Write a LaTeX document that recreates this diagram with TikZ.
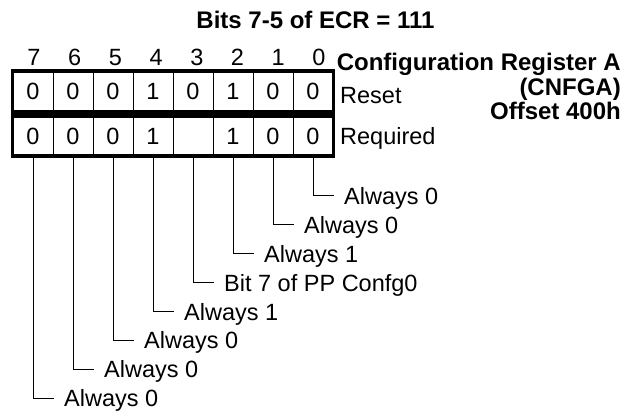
\documentclass[tikz,border=0pt]{standalone}
\usepackage{fontspec}
\setmainfont{Liberation Sans}
\usetikzlibrary{positioning}

\tikzset{
  bitzelle/.style={draw, line width=1pt, minimum width=40pt, minimum height=40pt, inner sep=0pt},
  beschr/.style={anchor=west, inner sep=0pt, text height=16.8pt, text depth=0pt},
  fett/.style={font=\fontsize{24}{28}\selectfont\bfseries, inner sep=0pt},
}

\begin{document}
\begin{tikzpicture}[x=1pt, y=-1pt, font=\fontsize{23.5}{27}\selectfont]
        \useasboundingbox (0,0) rectangle (636,411);

        % Titel
        \node[fett, anchor=base] (titel) at (315.5,28.5) {Bits 7-5 of ECR = 111};

        % Registername
        \node[fett, anchor=base east] (regA) at (621,71) {Configuration Register A};
        \node[fett, anchor=base east] (regB) at (621,95.5) {(CNFGA)};
        \node[fett, anchor=base east] (regC) at (621,120) {Offset 400h};

        % Bitnummern
        \foreach \b in {0,...,7} {
                \node[anchor=base, inner sep=0pt] (nr\b) at ({34+40.7*(7-\b)},66) {\b};
            }

        % Zellen Reset / Required
        \foreach \b/\r/\q in {7/0/0, 6/0/0, 5/0/0, 4/1/1, 3/0/{}, 2/1/1, 1/0/0, 0/0/0} {
                \node[bitzelle] (reset\b) at ({33+40*(7-\b)},91.5) {\r};
                \node[bitzelle, minimum height=39pt] (req\b) at ({33+40*(7-\b)},136) {\q};
            }
        \draw[line width=3.3pt] (reset7.north west) rectangle (reset0.south east);
        \draw[line width=3.3pt] (req7.north west) rectangle (req0.south east);

        \node[beschr] (reset) at (340,95) {Reset};
        \node[beschr] (required) at (340,136.5) {Required};

        % Zuleitungen
        \foreach \b/\txt in {0/Always 0, 1/Always 0, 2/Always 1, 3/Bit 7 of PP Confg0,
                4/Always 1, 5/Always 0, 6/Always 0, 7/Always 0} {
                \node[beschr] (hinweis\b) at ({33+40*(7-\b)+31},{196+28.9*\b}) {\txt};
                \draw[line width=1pt] (req\b.south) |- ([xshift=-10.5pt]hinweis\b.west);
            }

    \end{tikzpicture}
\end{document}
